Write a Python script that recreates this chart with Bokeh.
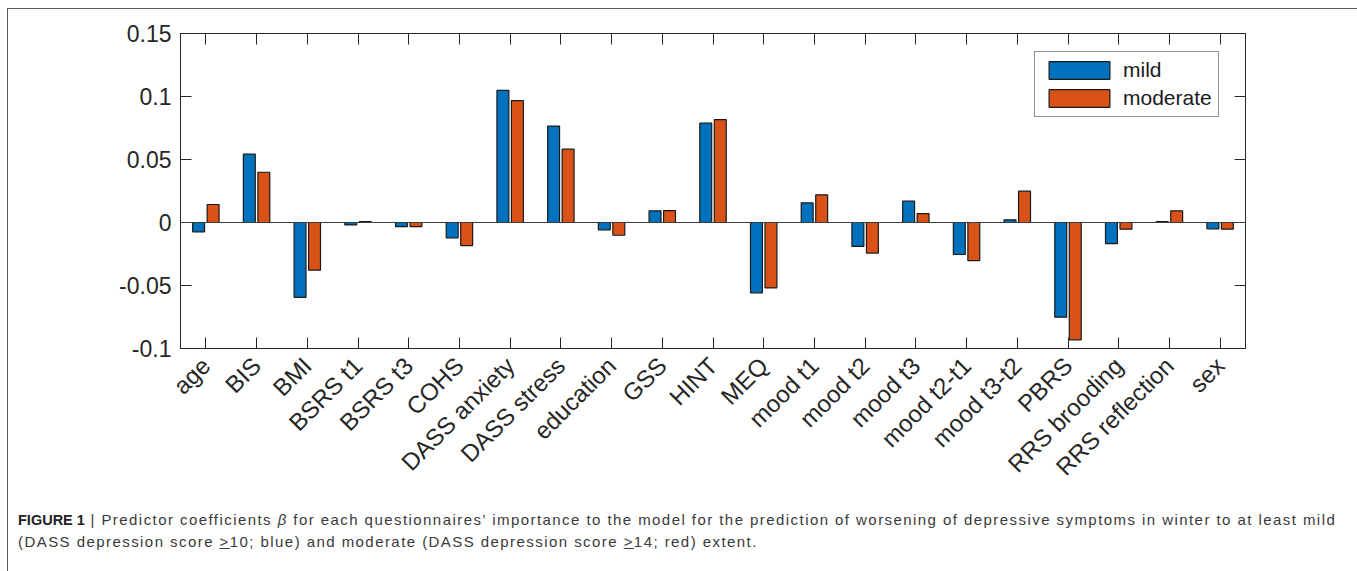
import math

from bokeh.embed import file_html
from bokeh.resources import INLINE
from bokeh.plotting import figure
from bokeh.layouts import column
from bokeh.models import (ColumnDataSource, FactorRange, Range1d, FixedTicker,
                          CategoricalAxis, LinearAxis, Span, Legend, LegendItem, Div)
from bokeh.transform import dodge

# Predictors and their coefficients for the two outcome thresholds
categories = ["age", "BIS", "BMI", "BSRS t1", "BSRS t3", "COHS", "DASS anxiety",
              "DASS stress", "education", "GSS", "HINT", "MEQ", "mood t1",
              "mood t2", "mood t3", "mood t2-t1", "mood t3-t2", "PBRS",
              "RRS brooding", "RRS reflection", "sex"]
mild = [-0.0074, 0.0542, -0.0595, -0.0019, -0.0032, -0.0122, 0.1048,
        0.0765, -0.0058, 0.0093, 0.0788, -0.0558, 0.0156,
        -0.0190, 0.0169, -0.0254, 0.0021, -0.0751,
        -0.0167, 0.0008, -0.0050]
moderate = [0.0143, 0.0399, -0.0378, 0.0008, -0.0032, -0.0183, 0.0968,
            0.0582, -0.0101, 0.0095, 0.0817, -0.0519, 0.0220,
            -0.0243, 0.0071, -0.0302, 0.0249, -0.0931,
            -0.0053, 0.0093, -0.0053]
y_ticks = [-0.1, -0.05, 0, 0.05, 0.1, 0.15]
y_tick_labels = ["-0.1", "-0.05", "0", "0.05", "0.1", "0.15"]
series_names = ["mild", "moderate"]

BLUE = "#0072BD"
ORANGE = "#D95319"
AXIS = "#262626"
FONT = "Liberation Sans"

src = ColumnDataSource(dict(cat=categories, mild=mild, moderate=moderate))

p = figure(width=1347, height=486,
           x_range=FactorRange(*categories, range_padding=0, factor_padding=0),
           y_range=Range1d(-0.1, 0.15),
           output_backend="svg", toolbar_location=None,
           min_border_left=172, min_border_right=110,
           min_border_top=24, min_border_bottom=147)
p.background_fill_color = "white"
p.border_fill_color = "white"
p.xgrid.visible = False
p.ygrid.visible = False
p.outline_line_color = AXIS
p.outline_line_width = 1

# zero baseline
p.add_layout(Span(location=0, dimension="width", line_color="#3c3c3c", line_width=1))

r_mild = p.vbar(x=dodge("cat", -0.143, range=p.x_range), top="mild", width=0.235,
                source=src, fill_color=BLUE, line_color="#1a1a1a", line_width=1.2)
r_mod = p.vbar(x=dodge("cat", 0.143, range=p.x_range), top="moderate", width=0.235,
               source=src, fill_color=ORANGE, line_color="#1a1a1a", line_width=1.2)

ticker = FixedTicker(ticks=y_ticks)
overrides = {t: s for t, s in zip(y_ticks, y_tick_labels)}


def style_axis(ax, labels=True):
    ax.axis_line_color = AXIS
    ax.major_tick_line_color = AXIS
    ax.major_tick_in = 11
    ax.major_tick_out = 0
    ax.minor_tick_in = 0
    ax.minor_tick_out = 0
    ax.major_label_text_font = FONT
    ax.major_label_text_color = AXIS if labels else None
    ax.major_label_text_font_size = "23px" if labels else "10px"


# left axis
yax = p.yaxis[0]
yax.ticker = ticker
yax.major_label_overrides = overrides
style_axis(yax)
yax.major_label_standoff = 9

# bottom axis with slanted predictor names
xax = p.xaxis[0]
style_axis(xax)
xax.major_label_text_font_size = "24px"
xax.major_label_orientation = math.pi / 4
xax.major_label_standoff = 13

# mirrored ticks on top and right
top_ax = CategoricalAxis()
style_axis(top_ax, labels=False)
p.add_layout(top_ax, "above")
right_ax = LinearAxis(ticker=ticker)
style_axis(right_ax, labels=False)
p.add_layout(right_ax, "right")

legend = Legend(items=[LegendItem(label=series_names[0], renderers=[r_mild]),
                       LegendItem(label=series_names[1], renderers=[r_mod])],
                location=(854, 231))
legend.glyph_width = 76
legend.glyph_height = 22
legend.label_height = 20
legend.label_standoff = 6
legend.spacing = 4
legend.padding = 6
legend.margin = 0
legend.label_text_font = FONT
legend.label_text_font_size = "21px"
legend.label_text_color = "#1a1a1a"
legend.border_line_color = AXIS
legend.border_line_width = 1
legend.background_fill_color = "white"
legend.background_fill_alpha = 1
p.add_layout(legend)

caption_html = (
    '<div style="font-family: \'Liberation Sans\', Arial, sans-serif; font-size: 15px; '
    'line-height: 22px; color: #3a3a3a; padding: 9px 0 0 5px; white-space: nowrap; '
    'letter-spacing: 1.44px;">'
    '<b style="color:#222; font-size: 14.5px; letter-spacing: 0;">FIGURE 1</b> | '
    'Predictor coefficients <i>β</i> for each '
    'questionnaires’ importance to the model for the prediction of worsening of depressive '
    'symptoms in winter to at least mild<br>'
    '(DASS depression score <u>&gt;</u>10; blue) and moderate '
    '(DASS depression score <u>&gt;</u>14; red) extent.</div>'
)
caption = Div(text=caption_html, width=1347, height=76)

page = column(p, caption, spacing=0,
              styles={"border-left": "1px solid #5a5a5a",
                      "border-top": "1px solid #5a5a5a",
                      "border-right": "1px solid #5a5a5a",
                      "margin-left": "7px", "margin-top": "8px",
                      "background": "white"})

open("out.html", "w").write(file_html(page, INLINE))
